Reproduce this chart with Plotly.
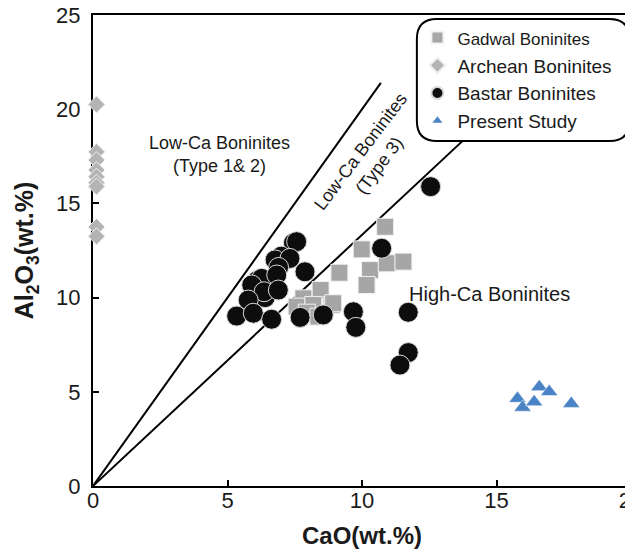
import plotly.graph_objects as go

# ---- data ----
gadwal_cao = [10.86, 9.99, 10.30, 10.92, 11.54, 10.17, 9.16, 8.46, 7.82, 7.57, 8.87, 8.19, 7.95, 8.38, 8.93]
gadwal_al2o3 = [13.76, 12.56, 11.46, 11.82, 11.91, 10.67, 11.32, 10.40, 9.96, 9.52, 9.61, 9.61, 9.20, 8.99, 9.70]

archean_cao = [0.13, 0.13, 0.13, 0.13, 0.13, 0.13, 0.13, 0.13, 0.13]
archean_al2o3 = [20.25, 17.74, 17.30, 16.77, 16.42, 16.10, 15.90, 13.75, 13.25]

bastar_cao = [7.45, 7.57, 7.00, 6.77, 7.32, 6.90, 7.88, 6.10, 6.50, 6.27, 6.83, 5.90, 6.40, 6.36, 6.89,
              5.77, 5.34, 5.96, 6.64, 7.70, 8.56, 9.68, 9.77, 11.72, 12.55, 11.72, 11.41, 10.73]
bastar_al2o3 = [12.90, 12.97, 12.20, 12.00, 12.08, 11.60, 11.37, 10.90, 10.80, 11.02, 11.20, 10.67, 10.00, 10.31, 10.40,
                9.87, 9.02, 9.17, 8.85, 8.95, 9.08, 9.25, 8.42, 9.22, 15.89, 7.08, 6.42, 12.62]

present_cao = [15.78, 15.97, 16.40, 16.59, 16.96, 17.78]
present_al2o3 = [4.64, 4.17, 4.46, 5.26, 5.00, 4.37]

# discrimination lines (Al2O3 = 2*CaO and Al2O3 = CaO/0.75)
line_type12_cao = [0, 10.7]
line_type12_al2o3 = [0, 21.4]
line_type3_cao = [0, 14.2]
line_type3_al2o3 = [0, 18.93]

x_ticks = [0, 5, 10, 15, 20]
y_ticks = [0, 5, 10, 15, 20, 25]

FONT = "Liberation Sans, Arial, sans-serif"

fig = go.Figure()

for lx, ly in [(line_type12_cao, line_type12_al2o3), (line_type3_cao, line_type3_al2o3)]:
    fig.add_trace(go.Scatter(x=lx, y=ly, mode="lines", line=dict(color="black", width=2),
                             showlegend=False, hoverinfo="skip"))

fig.add_trace(go.Scatter(
    x=gadwal_cao, y=gadwal_al2o3, mode="markers",
    name='<span style="font-size:17px">Gadwal Boninites</span>',
    marker=dict(symbol="square", size=17, color="#a6a6a6", line=dict(color="#f2f2f2", width=1))))

fig.add_trace(go.Scatter(
    x=archean_cao, y=archean_al2o3, mode="markers", name="Archean Boninites", cliponaxis=False,
    marker=dict(symbol="diamond", size=13, color="#b4b4b4", line=dict(color="#f0f0f0", width=1))))

fig.add_trace(go.Scatter(
    x=bastar_cao, y=bastar_al2o3, mode="markers", name="Bastar Boninites",
    marker=dict(symbol="circle", size=20, color="#0d0d0d", line=dict(color="#d8d8d8", width=1))))

fig.add_trace(go.Scatter(
    x=present_cao, y=present_al2o3, mode="markers", name="Present Study",
    marker=dict(symbol="triangle-up", size=15, color="#4a84c6", line=dict(color="#ffffff", width=0.5))))

# rounded legend frame (paper coords)
x0, x1, y0, y1 = 0.602, 0.997, 0.7325, 0.9915
rx, ry = 20 / 538, 20 / 471
path = (f"M {x0+rx},{y1} L {x1-rx},{y1} Q {x1},{y1} {x1},{y1-ry} "
        f"L {x1},{y0+ry} Q {x1},{y0} {x1-rx},{y0} "
        f"L {x0+rx},{y0} Q {x0},{y0} {x0},{y0+ry} "
        f"L {x0},{y1-ry} Q {x0},{y1} {x0+rx},{y1} Z")
fig.add_shape(type="path", path=path, xref="paper", yref="paper",
              line=dict(color="black", width=2), fillcolor="white", layer="above")

fig.add_annotation(x=4.7, y=17.6, xref="x", yref="y", showarrow=False,
                   text="Low-Ca Boninites<br>(Type 1& 2)", font=dict(family=FONT, size=18, color="#1a1a1a"))
fig.add_annotation(x=10.28, y=17.4, xref="x", yref="y", showarrow=False, textangle=-53,
                   text="Low-Ca Boninites<br>(Type 3)", font=dict(family=FONT, size=18, color="#1a1a1a"))
fig.add_annotation(x=14.74, y=10.19, xref="x", yref="y", showarrow=False,
                   text="High-Ca Boninites", font=dict(family=FONT, size=20, color="#1a1a1a"))

axis_common = dict(showgrid=False, zeroline=False, showline=True, mirror=True,
                   linecolor="black", linewidth=2, ticks="inside", ticklen=6, tickwidth=2,
                   tickcolor="black", layer="below traces", automargin=False,
                   ticklabeloverflow="allow",
                   tickfont=dict(family=FONT, size=22, color="#1a1a1a"))

fig.update_xaxes(range=[0, 20], tickvals=x_ticks, ticktext=[str(v) for v in x_ticks],
                 title=dict(text="<b>CaO(wt.%)</b>", font=dict(family=FONT, size=24, color="#1a1a1a")),
                 ticklabelstandoff=-6, **axis_common)
fig.update_yaxes(range=[0, 25], tickvals=y_ticks, ticktext=[str(v) for v in y_ticks],
                 title=dict(text="<b>Al<sub>2</sub>O<sub>3</sub>(wt.%)</b>",
                            font=dict(family=FONT, size=25, color="#1a1a1a")),
                 ticklabelstandoff=6, **axis_common)

# the page adds an 8px body margin, so the figure is sized to fit the 633x552 window
fig.update_layout(
    width=625, height=544,
    margin=dict(l=85, r=2, t=7, b=66),
    paper_bgcolor="white", plot_bgcolor="white",
    font=dict(family=FONT, color="#1a1a1a"),
    legend=dict(x=0.603, y=0.992, xanchor="left", yanchor="top", bgcolor="rgba(0,0,0,0)",
                borderwidth=0, itemsizing="constant", tracegroupgap=0,
                font=dict(family=FONT, size=19, color="#1a1a1a")),
)

fig.write_html("out.html")
